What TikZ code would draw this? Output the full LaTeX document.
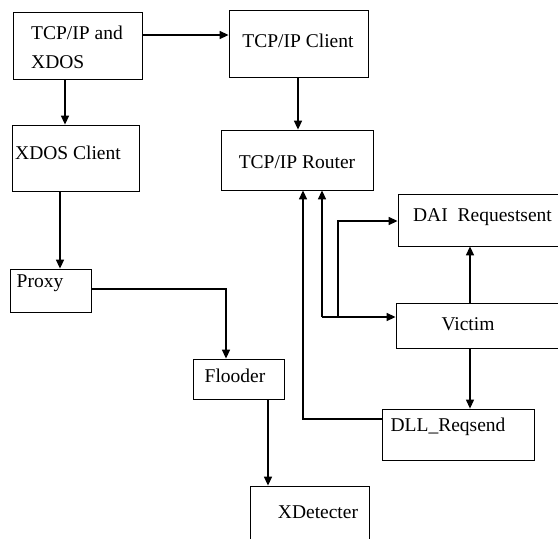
\documentclass[tikz,border=0pt]{standalone}
\usepackage{fontspec}
\setmainfont{Liberation Serif}
\usetikzlibrary{arrows.meta}

\begin{document}
\begin{tikzpicture}[x=1pt,y=-1pt,font=\fontsize{19.5}{29}\selectfont]
  \path[use as bounding box] (0,0) rectangle (558,539);
  \clip (0,0) rectangle (558,539);

  \tikzset{
    box/.style={draw,line width=.8pt,inner sep=0pt},
    lbl/.style={inner sep=0pt},
    arr/.style={line width=1.5pt,-{Triangle[length=9pt,width=8pt]}},
    wire/.style={line width=1.5pt}
  }

  % blocks, drawn as empty frames; the texts sit where the picture has them
  \node[box,minimum width=129pt,minimum height=67pt] (src) at (77.5,45.5) {};
  \node[box,minimum width=139pt,minimum height=67pt] (tcpc) at (298.5,43.5) {};
  \node[box,minimum width=127pt,minimum height=66pt] (xdosc) at (75.5,158) {};
  \node[box,minimum width=152pt,minimum height=60pt] (router) at (297,160) {};
  \node[box,minimum width=81pt,minimum height=43pt] (proxy) at (50.5,290.5) {};
  \node[box,minimum width=91pt,minimum height=40pt] (flooder) at (238.5,379) {};
  \node[box,minimum width=172pt,minimum height=52pt] (dai) at (484,220) {};
  \node[box,minimum width=174pt,minimum height=45pt] (victim) at (483,325.5) {};
  \node[box,minimum width=152pt,minimum height=51pt] (dll) at (458,434.5) {};
  \node[box,minimum width=119pt,minimum height=64pt] (xdet) at (309.5,518) {};

  \node[lbl,anchor=west,align=left] (src-t) at (31,47.5) {TCP/IP and\\XDOS};
  \node[lbl] (tcpc-t) at (298,41) {TCP/IP Client};
  \node[lbl] (xdosc-t) at (68,153) {XDOS Client};
  \node[lbl] (router-t) at (297,162) {TCP/IP Router};
  \node[lbl] (proxy-t) at (40,283) {Proxy};
  \node[lbl] (flooder-t) at (235,376) {Flooder};
  \node[lbl] (dai-t) at (482.5,217) {DAI\hspace{5pt} Requestsent};
  \node[lbl] (victim-t) at (468,324) {Victim};
  \node[lbl] (dll-t) at (448,427) {DLL\_Reqsend};
  \node[lbl] (xdet-t) at (318,512) {XDetecter};

  % junctions of the feedback lines
  \coordinate (j1) at (322,317);
  \coordinate (j2) at (338,317);

  \draw[arr] (src.east |- 0,35) -- (tcpc.west |- 0,35);
  \draw[arr] (src.south -| 65,0) -- (xdosc.north -| 65,0);
  \draw[arr] (tcpc.south -| 298,0) -- (router.north -| 298,0);
  \draw[arr] (xdosc.south -| 60,0) -- (proxy.north -| 60,0);
  \draw[arr] (proxy.east |- 0,289) -| (flooder.north -| 226,0);
  \draw[arr] (flooder.south -| 268,0) -- (xdet.north -| 268,0);
  \draw[arr,line width=1.1pt] (victim.south -| 470,0) -- (dll.north -| 470,0);
  \draw[arr] (victim.north -| 470,0) -- (dai.south -| 470,0);
  \draw[arr] (dll.west |- 0,419) -| (router.south -| 303,0);
  \draw[arr] (j1) -- (router.south -| j1);
  \draw[arr] (j1) -- (victim.west |- j1);
  \draw[arr] (j2) |- (dai.west |- 0,221);
\end{tikzpicture}
\end{document}
